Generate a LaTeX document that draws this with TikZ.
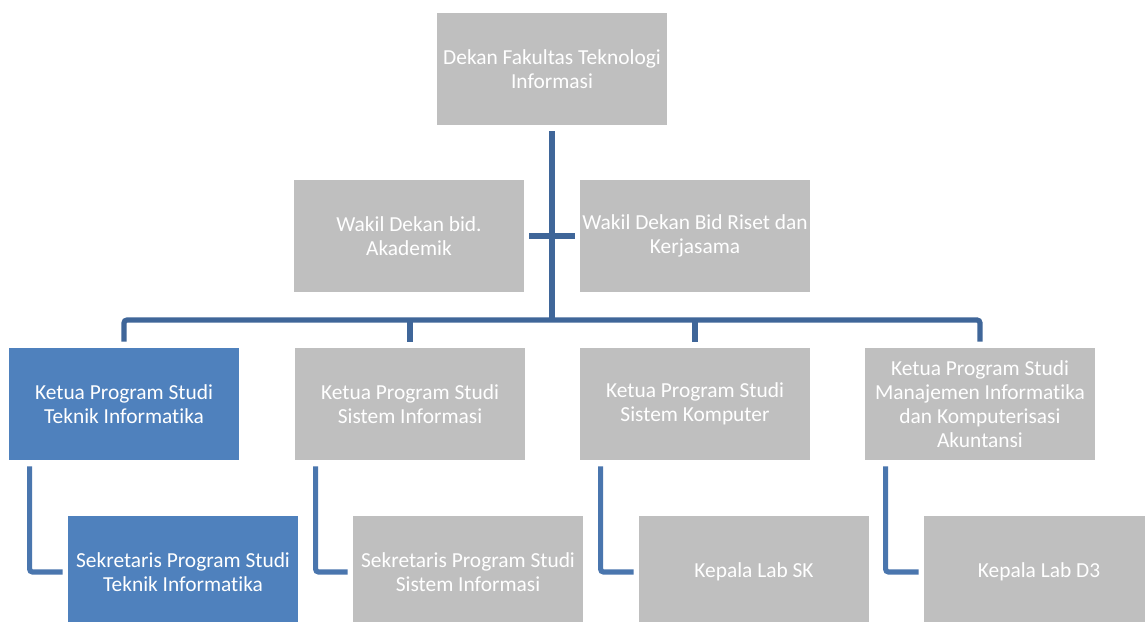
\documentclass[tikz,border=0pt]{standalone}
\usepackage{fontspec}
\setmainfont{Carlito}[Ligatures=NoCommon]
\definecolor{boxgray}{HTML}{BFBFBF}
\definecolor{boxblue}{HTML}{4F81BD}
\definecolor{busblue}{HTML}{3F6699}
\definecolor{elbowblue}{HTML}{4A76AE}
\begin{document}
\begin{tikzpicture}[x=0.5pt, y=-0.5pt,
    unit/.style={fill=boxgray, text=white, align=center, inner sep=0pt,
        minimum width=115pt, minimum height=56pt,
        font=\fontsize{10.7}{12}\selectfont},
    unitblue/.style={unit, fill=boxblue},
    bus/.style={busblue, line width=2.6pt, rounded corners=1.5pt},
    elbow/.style={elbowblue, line width=2.6pt, rounded corners=1.5pt}]
    \clip (0,0) rectangle (1145,621);
    \fill[white] (0,0) rectangle (1145,621);
    \node[unit] (dekan) at (552,69) {Dekan Fakultas Teknologi\\Informasi};
    \node[unit] (wa) at (409,236) {Wakil Dekan bid.\\Akademik};
    \node[unit] (wb) at (695,236) {Wakil Dekan Bid Riset dan\\Kerjasama};
    \node[unitblue] (ti) at (124,404) {Ketua Program Studi\\Teknik Informatika};
    \node[unit] (si) at (410,404) {Ketua Program Studi\\Sistem Informasi};
    \node[unit] (sk) at (695,404) {Ketua Program Studi\\Sistem Komputer};
    \node[unit] (mi) at (980,404) {Ketua Program Studi\\Manajemen Informatika\\dan Komputerisasi\\Akuntansi};
    \node[unitblue] (sti) at (183,572) {Sekretaris Program Studi\\Teknik Informatika};
    \node[unit] (ssi) at (468,572) {Sekretaris Program Studi\\Sistem Informasi};
    \node[unit] (lsk) at (754,572) {Kepala Lab SK};
    \node[unit] (ld3) at (1039,572) {Kepala Lab D3};
    \coordinate (hub) at (552,320);
    \draw[bus] ([yshift=-3pt]dekan.south) -- (hub);
    \draw[bus] ([xshift=2.5pt]wa.east) -- ([xshift=-2.5pt]wb.west);
    \draw[bus] ([yshift=3pt]ti.north) |- (hub) -| ([yshift=3pt]mi.north);
    \draw[bus] ([yshift=3pt]si.north) -- (si.north |- hub);
    \draw[bus] ([yshift=3pt]sk.north) -- (sk.north |- hub);
    \draw[elbow] ([xshift=10.5pt,yshift=-3pt]ti.south west) |- ([xshift=-2.5pt]sti.west);
    \draw[elbow] ([xshift=10.5pt,yshift=-3pt]si.south west) |- ([xshift=-2.5pt]ssi.west);
    \draw[elbow] ([xshift=10.5pt,yshift=-3pt]sk.south west) |- ([xshift=-2.5pt]lsk.west);
    \draw[elbow] ([xshift=10.5pt,yshift=-3pt]mi.south west) |- ([xshift=-2.5pt]ld3.west);
\end{tikzpicture}
\end{document}
